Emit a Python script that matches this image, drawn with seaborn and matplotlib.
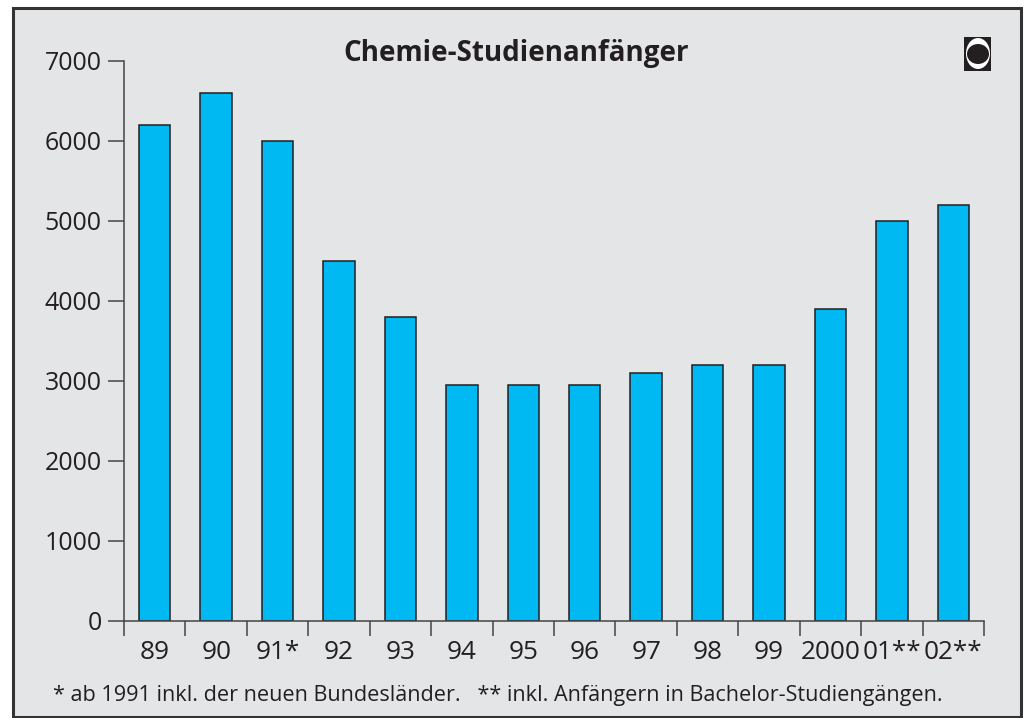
import numpy as np
import pandas as pd
import matplotlib
matplotlib.use("Agg")
import matplotlib.pyplot as plt
from matplotlib.patches import Rectangle, Ellipse
import seaborn as sns

# Werte
jahre = ["89", "90", "91*", "92", "93", "94", "95", "96", "97", "98", "99", "2000", "01**", "02**"]
anfaenger = [6200, 6600, 6000, 4500, 3800, 2950, 2950, 2950, 3100, 3200, 3200, 3900, 5000, 5200]
y_ticks = [0, 1000, 2000, 3000, 4000, 5000, 6000, 7000]

titel = "Chemie-Studienanfänger"
fussnote = "* ab 1991 inkl. der neuen Bundesländer.   ** inkl. Anfängern in Bachelor-Studiengängen."

sns.set_theme(style="white")
plt.rcParams['font.family'] = ['Open Sans', 'DejaVu Sans']

W, H = 1028, 718
GRAU = "#e4e5e7"
TEXT = "#231f20"
fig = plt.figure(figsize=(W / 100, H / 100), dpi=100, facecolor="white")

# Rahmen um die ganze Grafik (zorder unter den Axes)
fig.add_artist(Rectangle((13 / W, 1 - 717 / H), 1008 / W, 709 / H, transform=fig.transFigure,
                         facecolor=GRAU, edgecolor="#333333", linewidth=2.2, zorder=-1))

ax = fig.add_axes([124 / W, 1 - 621 / H, 860 / W, 560 / H])
ax.patch.set_alpha(0)

df = pd.DataFrame({"jahr": jahre, "wert": anfaenger})
sns.barplot(data=df, x="jahr", y="wert", color="#00b9f2", saturation=1, width=0.51,
            edgecolor=TEXT, linewidth=1.1, ax=ax)

ax.set_xlim(-0.5, len(jahre) - 0.5)
ax.set_ylim(0, 7000)
ax.set_xlabel("")
ax.set_ylabel("")
sns.despine(ax=ax)
for s in ["left", "bottom"]:
    ax.spines[s].set_linewidth(1.1)
    ax.spines[s].set_color("#444444")

ax.set_yticks(y_ticks)
ax.tick_params(axis="y", length=11.5, width=1.1, color="#444444", labelsize=18,
               labelcolor=TEXT, pad=4.5, left=True)

# Striche zwischen den Jahren, Beschriftung in der Mitte
ax.set_xticks(np.arange(len(jahre)))
ax.set_xticklabels(jahre)
ax.set_xticks(np.arange(len(jahre) + 1) - 0.5, minor=True)
ax.tick_params(axis="x", which="major", length=0, labelsize=18.8, labelcolor=TEXT, pad=14)
ax.tick_params(axis="x", which="minor", length=11, width=1.1, color="#444444", bottom=True)

fig.text(516 / W, 1 - 53 / H, titel, ha="center", va="center", fontsize=20,
         fontweight="bold", color=TEXT)
fig.text(53 / W, 1 - 696 / H, fussnote, ha="left", va="center", fontsize=15.6, color=TEXT)

# Kleines Symbol oben rechts
fig.add_artist(Rectangle((964 / W, 1 - 71 / H), 27 / W, 34 / H, transform=fig.transFigure,
                         facecolor="#231f20", edgecolor="none"))
fig.add_artist(Ellipse((978 / W, 1 - 53.5 / H), 24 / W, 31 / H, transform=fig.transFigure,
                       facecolor="white", edgecolor="none"))
fig.add_artist(Ellipse((978 / W, 1 - 54 / H), 22 / W, 20 / H, transform=fig.transFigure,
                       facecolor="#231f20", edgecolor="none"))

fig.savefig("out.png", dpi=100, facecolor=fig.get_facecolor())
